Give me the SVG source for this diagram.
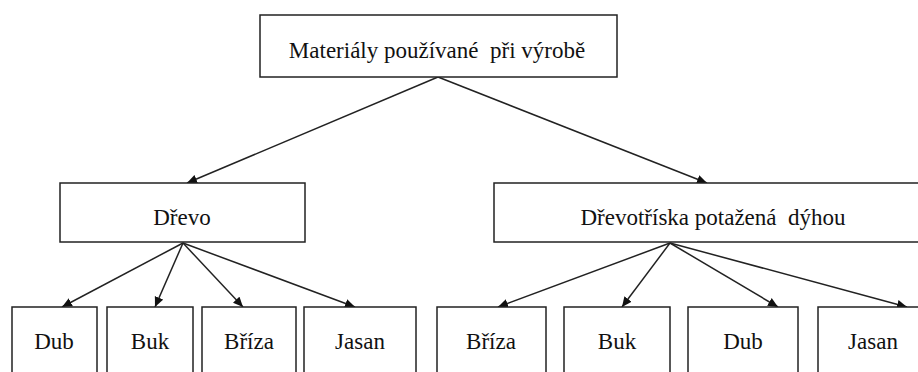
<svg xmlns="http://www.w3.org/2000/svg" width="918" height="372" viewBox="0 0 918 372">
  <style>
    .box { fill: #fff; stroke: #222; stroke-width: 1.5; }
    .lbl { font-family: "Liberation Serif", "Times New Roman", serif; font-size: 23px; fill: #111; text-anchor: middle; white-space: pre; }
    .edge { stroke: #222; stroke-width: 1.5; fill: none; marker-end: url(#arrow); }
  </style>
  <defs>
    <marker id="arrow" viewBox="0 0 10 10" refX="10" refY="5" markerWidth="10" markerHeight="10" markerUnits="userSpaceOnUse" orient="auto">
      <path d="M0,0.5 L10,5 L0,9.5 Z" fill="#111"/>
    </marker>
  </defs>
  <rect width="918" height="372" fill="#fff"/>

  <g id="connectors">
    <line class="edge" x1="438" y1="77" x2="187" y2="183"/>
    <line class="edge" x1="438" y1="77" x2="707" y2="183"/>
    <line class="edge" x1="183" y1="243" x2="62" y2="307"/>
    <line class="edge" x1="183" y1="243" x2="155" y2="307"/>
    <line class="edge" x1="183" y1="243" x2="243" y2="307"/>
    <line class="edge" x1="183" y1="243" x2="355" y2="307"/>
    <line class="edge" x1="670" y1="243" x2="498" y2="307"/>
    <line class="edge" x1="670" y1="243" x2="622" y2="307"/>
    <line class="edge" x1="670" y1="243" x2="778" y2="307"/>
    <line class="edge" x1="670" y1="243" x2="907" y2="307"/>
  </g>

  <g id="root">
    <rect class="box" x="260" y="15" width="357" height="62"/>
    <text class="lbl" x="437" y="58">Materiály používané  při výrobě</text>
  </g>

  <g id="drevo">
    <rect class="box" x="60" y="183" width="245" height="59"/>
    <text class="lbl" x="182" y="225">Dřevo</text>
  </g>
  <g id="drevotriska">
    <rect class="box" x="494" y="183" width="440" height="59"/>
    <text class="lbl" x="713" y="225">Dřevotříska potažená  dýhou</text>
  </g>

  <g id="drevo-dub">
    <rect class="box" x="12" y="307" width="85" height="80"/>
    <text class="lbl" x="54" y="349">Dub</text>
  </g>
  <g id="drevo-buk">
    <rect class="box" x="107" y="307" width="86" height="80"/>
    <text class="lbl" x="150" y="349">Buk</text>
  </g>
  <g id="drevo-briza">
    <rect class="box" x="202" y="307" width="94" height="80"/>
    <text class="lbl" x="249" y="349">Bříza</text>
  </g>
  <g id="drevo-jasan">
    <rect class="box" x="304" y="307" width="112" height="80"/>
    <text class="lbl" x="360" y="349">Jasan</text>
  </g>

  <g id="dts-briza">
    <rect class="box" x="437" y="307" width="109" height="80"/>
    <text class="lbl" x="491" y="349">Bříza</text>
  </g>
  <g id="dts-buk">
    <rect class="box" x="564" y="307" width="106" height="80"/>
    <text class="lbl" x="617" y="349">Buk</text>
  </g>
  <g id="dts-dub">
    <rect class="box" x="688" y="307" width="110" height="80"/>
    <text class="lbl" x="743" y="349">Dub</text>
  </g>
  <g id="dts-jasan">
    <rect class="box" x="818" y="307" width="110" height="80"/>
    <text class="lbl" x="873" y="349">Jasan</text>
  </g>
</svg>
